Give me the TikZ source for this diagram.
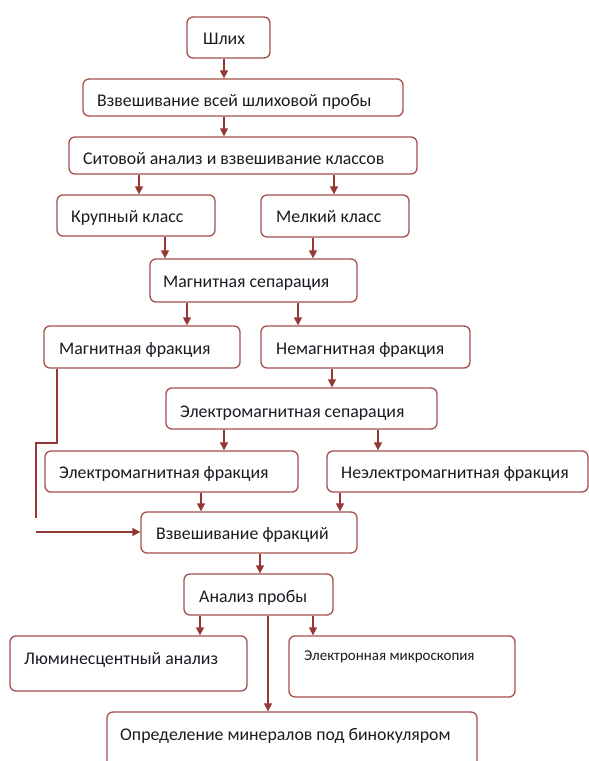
\documentclass[tikz,border=0pt]{standalone}
\usepackage{fontspec}
\setmainfont{Carlito}
\usetikzlibrary{arrows.meta,calc}
\definecolor{boxred}{HTML}{A5504F}
\definecolor{arrred}{HTML}{953735}
\definecolor{txtcol}{HTML}{1A1A22}
\tikzset{
  flowbox/.style={draw=boxred,line width=1.3pt,rounded corners=6pt,fill=white,inner sep=0pt},
  flowtxt/.style={anchor=base west,inner sep=0pt,text=txtcol,font=\fontsize{17.8}{20}\selectfont},
  smalltxt/.style={flowtxt,font=\fontsize{15}{17}\selectfont},
  arr/.style={draw=arrred,line width=1.3pt,-{Triangle[length=8pt,width=8pt]}},
  plainline/.style={draw=arrred,line width=1.3pt}
}
% name, x1, y1, x2, y2
\newcommand\mkbox[5]{%
  \node[flowbox,minimum width={(#4-#2)*1pt},minimum height={(#5-#3)*1pt}] (#1) at ({(#2+#4)/2},{(#3+#5)/2}) {};}
\begin{document}
\begin{tikzpicture}[x=1pt,y=-1pt]
\useasboundingbox[fill=white] (0,0) rectangle (589,761);
\begin{scope}
\clip (0,0) rectangle (589,761);
\mkbox{shlih}{187}{17}{270}{58}
\mkbox{vzv}{83}{79}{403}{116}
\mkbox{sit}{69}{137}{417}{174}
\mkbox{krup}{57}{195}{215}{236}
\mkbox{melk}{261}{195}{409}{237}
\mkbox{magsep}{150}{259}{357}{302}
\mkbox{magfr}{44}{326}{240}{368}
\mkbox{nemag}{261}{326}{470}{368}
\mkbox{emsep}{166}{388}{437}{429}
\mkbox{emfr}{45}{451}{298}{492}
\mkbox{neem}{327}{451}{588}{492}
\mkbox{vzvfr}{141}{512}{357}{553}
\mkbox{anal}{184}{574}{333}{615}
\mkbox{lum}{10}{636}{247}{691}
\mkbox{elmic}{289}{636}{515}{697}
\mkbox{opr}{107}{712}{477}{790}

\node[flowtxt] (tshlih) at (203,44) {Шлих};
\node[flowtxt] (tvzv) at (97,106) {Взвешивание всей шлиховой пробы};
\node[flowtxt] (tsit) at (83,164) {Ситовой анализ и взвешивание классов};
\node[flowtxt] (tkrup) at (71,222) {Крупный класс};
\node[flowtxt] (tmelk) at (276,222) {Мелкий класс};
\node[flowtxt] (tmagsep) at (163,287) {Магнитная сепарация};
\node[flowtxt] (tmagfr) at (59,354) {Магнитная фракция};
\node[flowtxt] (tnemag) at (276,354) {Немагнитная фракция};
\node[flowtxt] (temsep) at (180,417) {Электромагнитная сепарация};
\node[flowtxt] (temfr) at (59,478) {Электромагнитная фракция};
\node[flowtxt] (tneem) at (341,478) {Неэлектромагнитная фракция};
\node[flowtxt] (tvzvfr) at (156,539) {Взвешивание фракций};
\node[flowtxt] (tanal) at (199,602) {Анализ пробы};
\node[flowtxt] (tlum) at (24,664) {Люминесцентный анализ};
\node[smalltxt] (telmic) at (304,660) {Электронная микроскопия};
\node[flowtxt] (topr) at (120,740) {Определение минералов под бинокуляром};

\draw[arr] (224,0 |- shlih.south) -- (224,0 |- vzv.north);
\draw[arr] (224,0 |- vzv.south) -- (224,0 |- sit.north);
\draw[arr] (139,0 |- sit.south) -- (139,0 |- krup.north);
\draw[arr] (334,0 |- sit.south) -- (334,0 |- melk.north);
\draw[arr] (165,0 |- krup.south) -- (165,0 |- magsep.north);
\draw[arr] (313,0 |- melk.south) -- (313,0 |- magsep.north);
\draw[arr] (187,0 |- magsep.south) -- (187,0 |- magfr.north);
\draw[arr] (298,0 |- magsep.south) -- (298,0 |- nemag.north);
\draw[arr] (332,0 |- nemag.south) -- (332,0 |- emsep.north);
\draw[arr] (224,0 |- emsep.south) -- (224,0 |- emfr.north);
\draw[arr] (378,0 |- emsep.south) -- (378,0 |- neem.north);
\draw[arr] (201,0 |- emfr.south) -- (201,0 |- vzvfr.north);
\draw[arr] (340,0 |- neem.south) -- (340,0 |- vzvfr.north);
\draw[arr] (260,0 |- vzvfr.south) -- (260,0 |- anal.north);
\draw[arr] (200,0 |- anal.south) -- (200,0 |- lum.north);
\draw[arr] (313,0 |- anal.south) -- (313,0 |- elmic.north);
\draw[arr] (268,0 |- anal.south) -- (268,0 |- opr.north);
\coordinate (bendA) at (57,443);
\coordinate (bendB) at (36,443);
\coordinate (endB) at (36,518);
\coordinate (startC) at (36,532);
\draw[plainline] (57,0 |- magfr.south) -- (bendA) -- (bendB) -- (endB);
\draw[arr] (startC) -- (startC -| vzvfr.west);
\end{scope}
\end{tikzpicture}
\end{document}
